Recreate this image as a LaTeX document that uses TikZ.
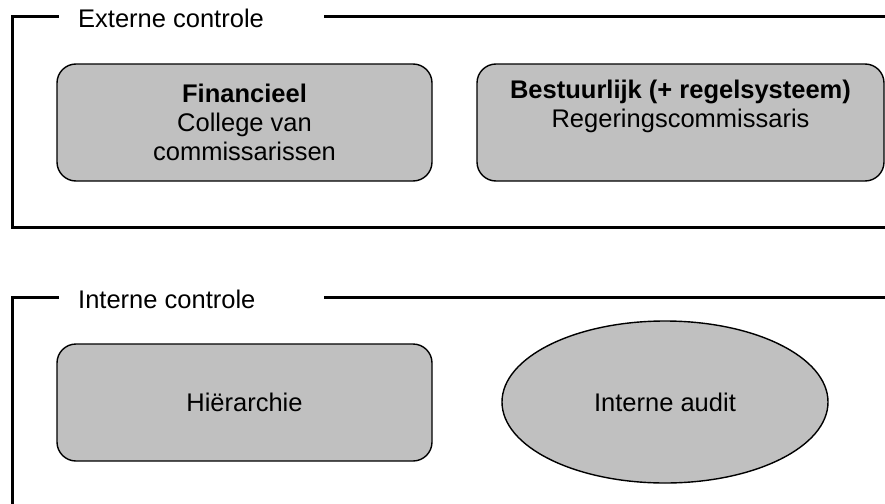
\documentclass[tikz,border=0pt]{standalone}
\usepackage{fontspec}
\setmainfont{Liberation Sans}
\usetikzlibrary{shapes.geometric}
\definecolor{boxgray}{HTML}{C0C0C0}
\begin{document}
\begin{tikzpicture}[x=1pt,y=-1pt,
  every node/.style={font=\fontsize{25.5}{29}\selectfont, inner sep=0pt},
  frame/.style={line width=3pt, line cap=rect},
  framelabel/.style={anchor=base west},
  roundbox/.style={draw=black, line width=1.4pt, fill=boxgray, rounded corners=19pt,
    align=center, minimum width=375pt, minimum height=117pt},
  ovalbox/.style={draw=black, line width=1.4pt, fill=boxgray, ellipse,
    minimum width=326pt, minimum height=162pt}
]
\useasboundingbox (0,0) rectangle (885,503);

% --- external control frame ---
\coordinate (ext-a) at (57,16.7);
\coordinate (ext-b) at (12,16.7);
\coordinate (ext-c) at (12,227.3);
\coordinate (ext-d) at (895,227.3);
\coordinate (ext-e) at (325,16.7);
\coordinate (ext-f) at (895,16.7);
\draw[frame] (ext-a) -- (ext-b) -- (ext-c) -- (ext-d);
\draw[frame] (ext-e) -- (ext-f);
\node[framelabel] (extlabel) at (78,27.7) {Externe controle};

\node[roundbox] (fin) at (244.5,122.5)
  {\textbf{Financieel}\\College van\\commissarissen};
\node[roundbox, minimum width=407pt] (best) at (680.5,122.5)
  {\textbf{Bestuurlijk (+ regelsysteem)}\\Regeringscommissaris\\\strut};

% --- internal control frame ---
\coordinate (int-a) at (57,297);
\coordinate (int-b) at (12,297);
\coordinate (int-c) at (12,510);
\coordinate (int-e) at (325,297);
\coordinate (int-f) at (895,297);
\draw[frame] (int-a) -- (int-b) -- (int-c);
\draw[frame] (int-e) -- (int-f);
\node[framelabel] (intlabel) at (78,308) {Interne controle};

\node[roundbox] (hier) at (244.5,402.5) {Hiërarchie};
\node[ovalbox] (audit) at (665,402) {Interne audit};
\end{tikzpicture}
\end{document}
